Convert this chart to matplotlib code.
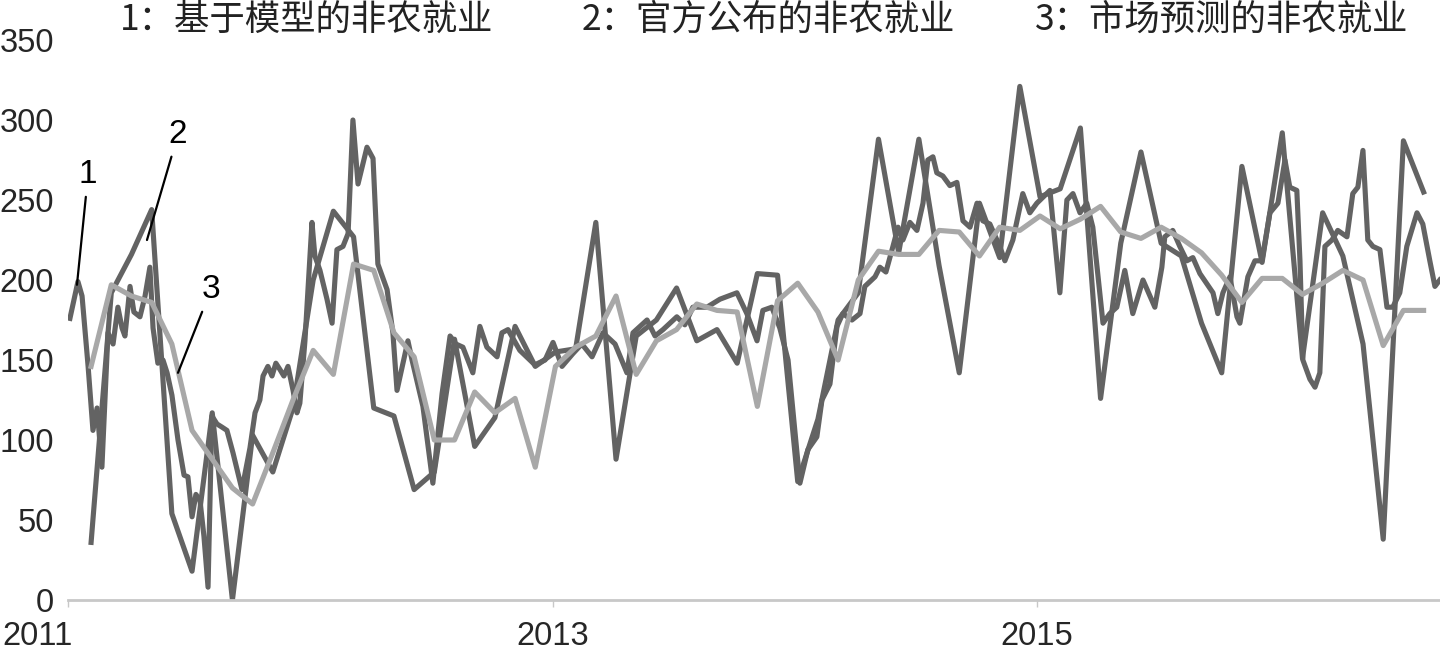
import numpy as np
import matplotlib
matplotlib.use("Agg")
import matplotlib.pyplot as plt
from matplotlib.transforms import ScaledTranslation

# ---------------------------------------------------------------
# 데이터: 2011-01 ~ 2016-07 월별 (발표일 기준으로 그림)
# ---------------------------------------------------------------
official = [36, 192, 216, 244, 54, 18, 117, 0, 103, 80, 120, 200,
            243, 227, 120, 115, 69, 80, 163, 96, 114, 171, 146, 155,
            157, 236, 88, 165, 175, 195, 162, 169, 148, 204, 203, 74,
            113, 175, 192, 288, 217, 288, 209, 142, 248, 214, 321, 252,
            257, 295, 126, 223, 280, 223, 215, 173, 142, 271, 211, 292,
            151, 242, 215, 160, 38, 287, 255]

forecast = [146, 197, 190, 186, 160, 106, 88, 70, 60, 92, 125, 156,
            141, 210, 206, 167, 152, 100, 100, 130, 117, 126, 83, 146,
            158, 165, 190, 141, 162, 169, 185, 181, 180, 121, 187, 198,
            180, 150, 200, 218, 216, 216, 231, 230, 215, 233, 231, 240,
            232, 238, 246, 230, 226, 233, 226, 217, 203, 186, 201, 201,
            191, 198, 206, 200, 159, 181, 181]

# 발표일 (다음 달 첫 주) - 소수 연도
release = 2011 + np.arange(1, len(official) + 1) / 12 + 0.012

# 모델 기반 (주간) - 소수 연도 / 값
model_t = [2011.008, 2011.041, 2011.058, 2011.083, 2011.103, 2011.120, 2011.140, 2011.165,
           2011.186, 2011.206, 2011.223, 2011.235, 2011.256, 2011.272, 2011.297, 2011.318,
           2011.338, 2011.351, 2011.371, 2011.392, 2011.409, 2011.429, 2011.454, 2011.479,
           2011.495, 2011.512, 2011.528, 2011.545, 2011.561, 2011.578, 2011.594, 2011.615,
           2011.636, 2011.656, 2011.681, 2011.718, 2011.751, 2011.772, 2011.792, 2011.805,
           2011.825, 2011.842, 2011.858, 2011.875, 2011.891, 2011.908, 2011.929, 2011.945,
           2011.957, 2011.978, 2012.007, 2012.019, 2012.040, 2012.069, 2012.090, 2012.110,
           2012.135, 2012.156, 2012.176, 2012.197, 2012.234, 2012.259, 2012.279, 2012.317,
           2012.341, 2012.358, 2012.403, 2012.420, 2012.465, 2012.506, 2012.544, 2012.577,
           2012.601, 2012.630, 2012.671, 2012.700, 2012.729, 2012.771, 2012.791, 2012.816,
           2012.865, 2012.927, 2012.969, 2013.002, 2013.039, 2013.084, 2013.121, 2013.163,
           2013.208, 2013.258, 2013.307, 2013.332, 2013.390, 2013.423, 2013.456, 2013.513,
           2013.546, 2013.579, 2013.637, 2013.691, 2013.761, 2013.802, 2013.844, 2013.868,
           2013.905, 2013.938, 2013.972, 2014.021, 2014.054, 2014.091, 2014.112, 2014.145,
           2014.174, 2014.198, 2014.236, 2014.269, 2014.289, 2014.331, 2014.351, 2014.376,
           2014.405, 2014.426, 2014.446, 2014.475, 2014.504, 2014.529, 2014.549, 2014.570,
           2014.586, 2014.611, 2014.640, 2014.669, 2014.694, 2014.723, 2014.752, 2014.776,
           2014.805, 2014.846, 2014.867, 2014.900, 2014.941, 2014.970, 2014.999, 2015.053,
           2015.094, 2015.123, 2015.148, 2015.177, 2015.205, 2015.230, 2015.272, 2015.300,
           2015.329, 2015.362, 2015.395, 2015.437, 2015.486, 2015.515, 2015.527, 2015.560,
           2015.589, 2015.618, 2015.643, 2015.672, 2015.726, 2015.746, 2015.767, 2015.796,
           2015.825, 2015.837, 2015.870, 2015.899, 2015.928, 2015.961, 2015.994, 2016.023,
           2016.043, 2016.072, 2016.085, 2016.097, 2016.126, 2016.147, 2016.167, 2016.188,
           2016.217, 2016.241, 2016.279, 2016.303, 2016.324, 2016.345, 2016.365, 2016.386,
           2016.415, 2016.444, 2016.468, 2016.497, 2016.526, 2016.568, 2016.592, 2016.621,
           2016.642, 2016.662]
model_v = [176, 199, 190, 146, 106, 120, 83, 167,
           160, 183, 170, 165, 196, 180, 177, 190,
           208, 170, 148, 150, 142, 128, 100, 78,
           77, 52, 66, 62, 40, 8, 115, 110,
           108, 106, 92, 69, 95, 117, 125, 140,
           146, 140, 148, 144, 140, 146, 131, 117,
           123, 162, 236, 215, 206, 188, 173, 219,
           221, 229, 300, 260, 283, 276, 210, 194,
           167, 131, 162, 150, 121, 73, 129, 165,
           160, 158, 142, 171, 158, 152, 167, 169,
           156, 147, 150, 161, 146, 154, 160, 152,
           167, 160, 142, 167, 175, 165, 169, 177,
           172, 183, 183, 188, 192, 179, 162, 181,
           183, 170, 150, 73, 94, 102, 125, 135,
           171, 179, 175, 179, 196, 202, 208, 205,
           221, 233, 225, 236, 231, 248, 275, 277,
           267, 265, 259, 261, 237, 233, 248, 237,
           235, 221, 212, 225, 254, 242, 248, 256,
           192, 250, 254, 242, 248, 233, 173, 179,
           183, 206, 179, 200, 183, 208, 227, 231,
           221, 212, 214, 204, 192, 179, 192, 202,
           177, 173, 202, 212, 212, 242, 248, 275,
           258, 256, 212, 150, 138, 133, 142, 221,
           225, 231, 227, 254, 258, 281, 225, 221,
           219, 183, 183, 192, 221, 242, 235, 212,
           196, 200]

legend_labels = ["1：基于模型的非农就业", "2：官方公布的非农就业", "3：市场预测的非农就业"]
year_ticks = [2011, 2013, 2015]

DARK = "#636363"
LIGHT = "#a8a8a8"

plt.rcParams['font.family'] = ['Liberation Sans', 'DejaVu Sans']

fig = plt.figure(figsize=(14.4, 6.56), dpi=100)
ax = fig.add_axes([68 / 1440, 1 - 600 / 656, 1 - 68 / 1440, 560 / 656])

ax.plot(model_t, model_v, color=DARK, lw=3.7, solid_joinstyle='round')
ax.plot(release, official, color=DARK, lw=3.7, solid_joinstyle='round')
ax.plot(release, forecast, color=LIGHT, lw=3.7, solid_joinstyle='round')

ax.set_xlim(2011, 2016.663)
ax.set_ylim(0, 350)
ax.set_xticks(year_ticks)
ax.set_xticklabels([str(y) for y in year_ticks])
ax.set_yticks(np.arange(0, 351, 50))

for s in ['top', 'right', 'left']:
    ax.spines[s].set_visible(False)
ax.spines['bottom'].set_color('#c8c8c8')
ax.spines['bottom'].set_linewidth(2)
ax.spines['bottom'].set_clip_on(False)

ax.tick_params(axis='y', length=0, pad=10, labelsize=23.5, labelcolor='#262626')
ax.tick_params(axis='x', length=5, width=1, color='#c8c8c8', pad=10,
               labelsize=23.5, labelcolor='#262626')
first = ax.get_xticklabels()[0]
first.set_ha('right')
first.set_transform(first.get_transform() + ScaledTranslation(5 / 100, 0, fig.dpi_scale_trans))

# 시리즈 번호 표시
arrow = dict(arrowstyle='-', color='black', lw=1.6, shrinkA=3, shrinkB=0)
ax.annotate('1', xy=(2011.037, 197), xytext=(2011.083, 266), fontsize=24,
            ha='center', va='center', arrowprops=arrow)
ax.annotate('2', xy=(2011.326, 225), xytext=(2011.454, 291), fontsize=24,
            ha='center', va='center', arrowprops=arrow)
ax.annotate('3', xy=(2011.454, 142), xytext=(2011.590, 194), fontsize=24,
            ha='center', va='center', arrowprops=arrow)

# 상단 범례 텍스트
for x0, lab in zip([120, 582, 1035], legend_labels):
    fig.text(x0 / 1440, 1 - 20 / 656, lab, fontsize=25.5, color='#222222',
             va='center', ha='left', family=['Noto Sans CJK SC', 'DejaVu Sans'])

fig.savefig('out.png', dpi=100)
